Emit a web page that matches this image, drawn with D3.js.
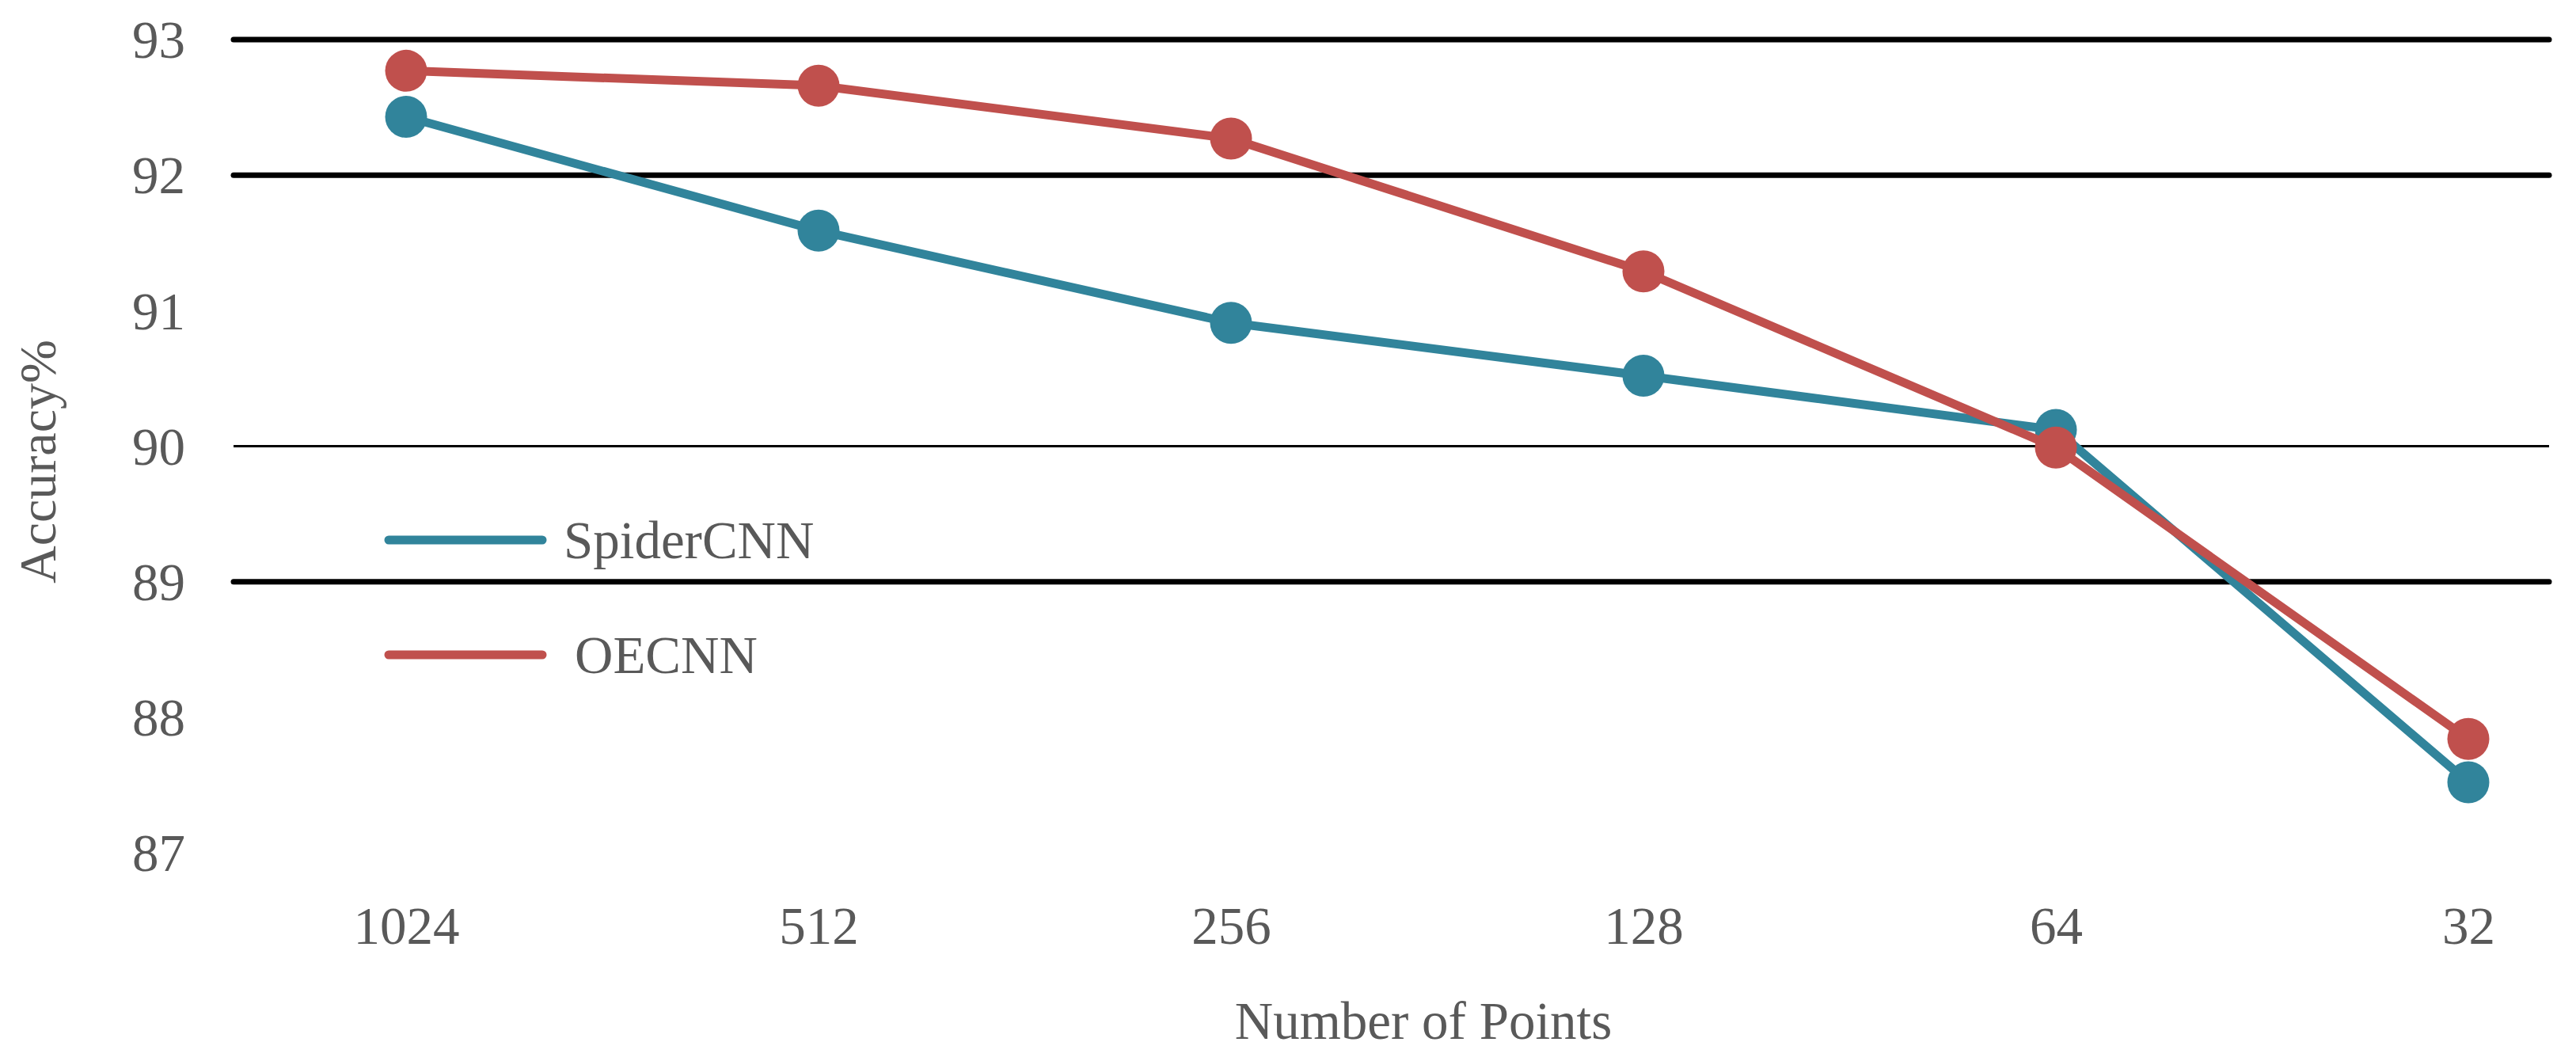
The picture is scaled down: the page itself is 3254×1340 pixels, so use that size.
<!DOCTYPE html>
<html>
<head>
<meta charset="utf-8">
<script src="https://cdn.jsdelivr.net/npm/d3@7"></script>
<style>
  html, body { margin: 0; padding: 0; background: #fff; }
  svg { display: block; }
</style>
</head>
<body>
<svg id="chart" width="3254" height="1340"></svg>
<script>
// ---- Data ----
const categories = ["1024", "512", "256", "128", "64", "32"];
const spiderCNN = [92.43, 91.59, 90.91, 90.52, 90.12, 87.52];
const oecnn = [92.77, 92.66, 92.27, 91.29, 89.99, 87.84];
const yTicks = [87, 88, 89, 90, 91, 92, 93];
const gridThick = [93, 92, 89];
const gridThin = [90];
const seriesNames = ["SpiderCNN", "OECNN"];

// ---- Layout ----
const W = 3254, H = 1340;
const svg = d3.select("#chart");
const font = "'Liberation Serif', 'Times New Roman', serif";
const textColor = "#595959";
const colors = { SpiderCNN: "#31849B", OECNN: "#C0504D" };

const x = d3.scalePoint().domain(categories).range([513, 3118]);
const y = d3.scaleLinear().domain([87, 93]).range([1077, 50]);
const gridX0 = 295, gridX1 = 3220;

// gridlines
svg.append("g").selectAll("line.thick").data(gridThick).join("line")
  .attr("x1", gridX0).attr("x2", gridX1)
  .attr("y1", d => y(d)).attr("y2", d => y(d))
  .attr("stroke", "#000").attr("stroke-width", 7).attr("stroke-linecap", "round");
svg.append("g").selectAll("line.thin").data(gridThin).join("line")
  .attr("x1", gridX0).attr("x2", gridX1)
  .attr("y1", d => y(d)).attr("y2", d => y(d))
  .attr("stroke", "#000").attr("stroke-width", 3);

// y axis labels
const yAxis = svg.append("g").attr("transform", "translate(234,0)")
  .call(d3.axisLeft(y).tickValues(yTicks).tickSize(0).tickPadding(0).tickFormat(d3.format("d")));
yAxis.select(".domain").remove();
yAxis.selectAll("text")
  .attr("font-family", font).attr("font-size", 67).attr("fill", textColor)
  .attr("dy", "0.34em");

// x axis labels
const xAxis = svg.append("g").attr("transform", "translate(0,1192)")
  .call(d3.axisBottom(x).tickSize(0).tickPadding(0));
xAxis.select(".domain").remove();
xAxis.selectAll("text")
  .attr("font-family", font).attr("font-size", 67).attr("fill", textColor)
  .attr("y", 0).attr("dy", null);

// axis titles
svg.append("text")
  .attr("x", 1798).attr("y", 1312)
  .attr("text-anchor", "middle")
  .attr("font-family", font).attr("font-size", 67).attr("fill", textColor)
  .text("Number of Points");
svg.append("text")
  .attr("transform", "translate(70,583) rotate(-90)")
  .attr("text-anchor", "middle")
  .attr("font-family", font).attr("font-size", 66).attr("fill", textColor)
  .text("Accuracy%");

// series
const series = [
  { name: "SpiderCNN", values: spiderCNN },
  { name: "OECNN", values: oecnn }
];
const line = d3.line().x((d, i) => x(categories[i])).y(d => y(d));
series.forEach(s => {
  const g = svg.append("g");
  g.append("path").datum(s.values)
    .attr("d", line)
    .attr("fill", "none").attr("stroke", colors[s.name])
    .attr("stroke-width", 11).attr("stroke-linejoin", "round");
  g.selectAll("circle").data(s.values).join("circle")
    .attr("cx", (d, i) => x(categories[i])).attr("cy", d => y(d))
    .attr("r", 26.5).attr("fill", colors[s.name]);
});

// legend
const legendY = [682, 827];
const legendTextX = [712, 726];
seriesNames.forEach((name, i) => {
  svg.append("line")
    .attr("x1", 491).attr("x2", 685)
    .attr("y1", legendY[i]).attr("y2", legendY[i])
    .attr("stroke", colors[name]).attr("stroke-width", 11).attr("stroke-linecap", "round");
  svg.append("text")
    .attr("x", legendTextX[i]).attr("y", legendY[i] + 23)
    .attr("font-family", font).attr("font-size", 67).attr("fill", textColor)
    .text(name);
});
</script>
</body>
</html>
